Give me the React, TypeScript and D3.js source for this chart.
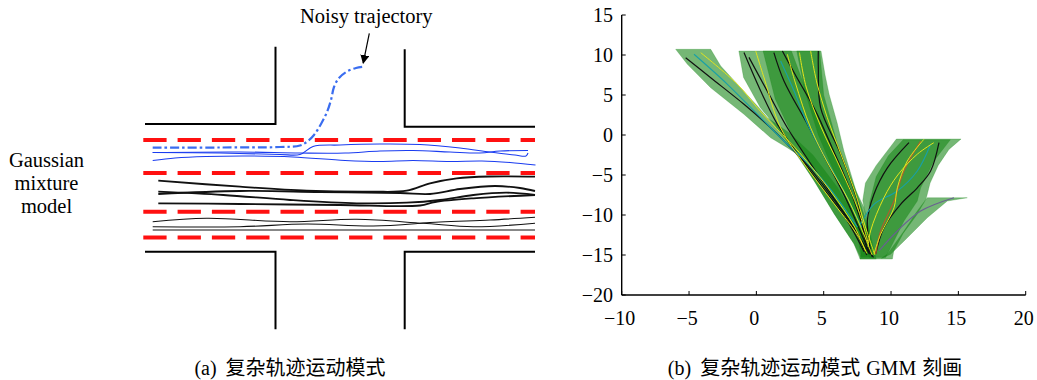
import React from 'react';
import * as d3 from 'd3';

type P = [number, number];

// ---------- Panel (b): GMM bands and trajectories (data units) ----------
const xTicks = [-10, -5, 0, 5, 10, 15, 20];
const yTicks = [-20, -15, -10, -5, 0, 5, 10, 15];

const bandA: P[] = [[-5.99, 10.71], [-5.12, 8.84], [-3.39, 5.91], [-0.92, 2.59], [1.06, -0.34], [2.3, -1.59], [3.04, -2.4], [4.3, -5.75], [5.8, -9.9], [7.25, -13.6], [7.75, -15.3], [8.6, -15.3], [7.8, -11.5], [6.0, -6.5], [4.2, -2.5], [2.5, 0.2], [0.82, 2.16], [0.07, 3.63], [-1.17, 5.91], [-2.65, 8.63], [-3.39, 10.71]];
const bandB: P[] = [[-1.3, 10.5], [4.8, 10.5], [5.1, 7.5], [5.4, 5.1], [6.0, 1.5], [6.5, -2], [7.4, -7], [8.0, -9.1], [8.4, -12], [8.9, -15.5], [7.7, -15.5], [7.25, -13.6], [5.8, -9.9], [4.3, -5.75], [2.8, -2], [1.3, 1.4], [0.3, 3.4], [-0.95, 7.2]];
const bandB2: P[] = [[0.5, 10.5], [2.6, 10.5], [3.6, 6], [5.2, 0], [7.0, -7], [8.3, -12.5], [8.5, -15.2], [7.8, -15.2], [7.5, -12.5], [5.0, -6], [2.8, -0.5], [1.4, 4.5]];
const bandB3: P[] = [[3.0, 10.5], [4.7, 10.5], [5.0, 5], [6.0, -1], [7.4, -7], [8.2, -11], [8.6, -14.8], [8.2, -14.8], [7.4, -11], [6.0, -5.5], [4.6, 0], [3.6, 5.5]];
const bandC: P[] = [[10.4, -0.5], [15.2, -0.5], [14.3, -1.8], [13.5, -3.8], [12.9, -6], [12.6, -8], [11.9, -10], [10.9, -12.3], [10.2, -14.5], [10.1, -15.5], [7.7, -15.5], [8.0, -13], [8.2, -10.8], [7.9, -8.2], [8.1, -6], [8.9, -3.8]];
const bandC2: P[] = [[10.9, -0.6], [14.4, -0.6], [13.18, -3.25], [12.2, -6.6], [11.95, -8.25], [10.96, -10.75], [9.97, -14.1], [9.6, -15.3], [8.4, -15.3], [8.3, -12], [8.4, -8.5], [8.9, -5.2], [9.8, -2.6]];
const bandD: P[] = [[12.69, -7.84], [15.66, -7.84], [14.18, -8.25], [12.69, -10.34], [11.21, -12.84], [9.97, -14.9], [9.3, -15.4], [9.73, -14.9], [10.96, -12], [11.95, -9.5]];
const bands: P[][] = [bandA, bandB, bandB2, bandB3, bandC, bandC2, bandD];

const blackTraj: P[][] = [
  [[-5.25, 9.66], [-3.39, 7.16], [-0.92, 3.84], [1.06, 0.91], [2.3, -1.16], [3.8, -3.8], [5.5, -7.5], [7.2, -11.5], [8.2, -15.0]],
  [[-0.92, 10.3], [0.32, 5.5], [1.56, 1.34], [3.0, -2.2], [4.8, -6.3], [6.6, -10.3], [8.0, -14.6]],
  [[-0.55, 9.7], [0.9, 5.2], [2.3, 0.9], [4.0, -3.5], [5.8, -8], [7.4, -12], [8.4, -14.9]],
  [[1.3, 10.3], [2.05, 6.75], [3.79, 1.34], [5.3, -3.5], [6.8, -8.5], [8.4, -14.8]],
  [[1.93, 10.5], [2.9, 7.5], [4.4, 3], [5.6, -1.5], [7.0, -7], [8.6, -15.2]],
  [[4.6, 10.5], [4.6, 8.5], [4.77, 3.41], [6.26, -2.4], [7.5, -8.25], [8.24, -14.1], [8.7, -15.3]],
  [[11.33, -0.96], [9.73, -4.1], [8.73, -7.4], [8.24, -10.75], [8.48, -14.5]],
  [[13.56, -0.96], [12.94, -4.5], [11.95, -6.6], [10.71, -8.66], [9.47, -11.6], [8.86, -14.9]],
];
const yellowTraj: P[][] = [
  [[-4.13, 10.29], [-1.41, 6.34], [0.07, 3.41], [1.5, 0.8], [3.2, -2.2], [5.5, -7], [7.3, -11.5], [8.1, -14.5]],
  [[-0.05, 10.5], [0.6, 7], [1.8, 0.9], [3.5, -3.5], [5.5, -8], [7.5, -12.5], [8.2, -14.8]],
  [[2.3, 10.1], [2.9, 6.5], [4.03, 0.9], [5.3, -3.5], [6.8, -8], [8.0, -12.5], [8.6, -15]],
  [[4.03, 10.5], [4.5, 6.5], [5.27, 2.16], [6.3, -2.5], [7.3, -7], [8.1, -11.5], [8.8, -15]],
  [[3.2, 10.3], [3.7, 6], [4.8, 1], [6.2, -4], [7.6, -9.5], [8.3, -13.5]],
  [[12.44, -0.54], [11.21, -3.25], [10.47, -6.6], [10.22, -9.1], [9.23, -12.4], [8.73, -14.9]],
  [[13.18, -0.96], [11.95, -2.4], [10.5, -5], [9.47, -7.84], [8.48, -12], [8.3, -14]],
];
const cyanTraj: P[][] = [
  [[-4.63, 10.09], [-2.15, 6.34], [0.32, 2.16], [2.05, -0.75], [3.8, -3.5], [5.5, -6.8], [7.5, -11.5]],
  [[1.8, 9.25], [2.8, 5.5], [3.79, 1.4], [5.0, -2.5], [6.5, -7], [7.8, -11.5]],
  [[12.94, -1.16], [11.95, -4.5], [10.47, -7], [8.73, -8.66], [7.74, -11.16]],
];
const brownTraj: P[][] = [
  [[12.2, -0.75], [10.96, -4.5], [10.22, -8.25], [9.23, -12], [8.86, -14.9]],
];
const purpleTraj: P[][] = [
  [[14.67, -7.84], [12.2, -9.5], [10.47, -12], [9.1, -14.5]],
];

// ---------- Panel (a): corridor diagram (diagram units) ----------
const walls: P[][] = [
  [[0, 77.3], [130.5, 77.3], [130.5, 0]],
  [[259.7, 2.6], [259.7, 80], [390, 80]],
  [[0, 205], [130.5, 205], [130.5, 282.6]],
  [[390, 205], [259.7, 205], [259.7, 282.6]],
];
const laneY = [93.3, 126.2, 165.1, 190.9];
const noisyTraj: P[] = [[7.7, 101], [75, 100.8], [135, 100.3], [155, 98.8], [163, 94.3], [169, 88.3], [176, 77.3], [182, 65.3], [186, 53.3], [189, 40.3], [194, 31.3], [202, 24.8], [211, 21.3], [218.3, 20]];
const arrowPts: P[] = [[224.3, -13.4], [218.2, 16.5]];
const blueTraj: P[][] = [
  [[7.7, 105.8], [75, 106.3], [135, 107.8], [155, 107.8], [168, 99.8], [195, 98.3], [235, 97.3], [275, 97.8], [315, 101.3], [345, 105.3], [370, 108.3], [381, 109.3], [383, 106.3]],
  [[7.7, 105.8], [95, 105.3], [155, 106.3], [200, 106.3], [235, 104.3], [268, 103.8], [305, 105.3], [335, 106.3], [355, 104.3], [383, 103.8]],
  [[7.7, 113.8], [30, 111.3], [61, 109.8], [105, 109.3], [148, 110.3], [200, 113.8], [235, 114.8], [268, 113.8], [305, 114.8], [337, 114.3], [365, 115.8], [390.5, 118.3]],
];
const blackTrajMid: P[][] = [
  [[13.3, 134], [95, 140], [161.7, 144], [228.3, 145], [261.7, 144], [285, 136.6], [311.7, 131.6], [345, 129.8], [390, 130]],
  [[13.3, 145], [78.3, 148.3], [145, 153.3], [211.7, 156.6], [261.7, 156], [295, 153.3], [328.3, 148.3], [361.7, 146], [390, 148.3]],
  [[13.3, 147.3], [95, 144.3], [175, 145.3], [255, 146.3], [285, 147.3], [315, 142.3], [350, 139.3], [375, 141.3], [390, 144.3]],
  [[13.3, 156.6], [95, 157.3], [195, 158.3], [275, 158.8], [290, 155.3], [328.3, 151.6], [390, 148.3]],
];
const blackTrajLow: P[][] = [
  [[7.7, 175], [61.7, 171.6], [145, 175], [211.7, 172.6], [278.3, 176.6], [328.3, 180], [390, 176.6]],
  [[7.7, 180], [95, 180], [161.7, 177.3], [228.3, 179.3], [295, 175.3], [345, 173.3], [390, 170.6]],
  [[7.7, 183.3], [155, 183.3], [255, 183.3], [390, 183.3]],
];
const gmmLabel = ['Gaussian', 'mixture', 'model'];
const noisyLabel = 'Noisy trajectory';
const captionA = ['(a)', '复杂轨迹运动模式'];
const captionB = ['(b)', '复杂轨迹运动模式', 'GMM', '刻画'];

const SERIF = 'Liberation Serif, DejaVu Serif, serif';
const CJK = 'Noto Sans CJK SC, sans-serif';

export default function App() {
  // panel (b) scales
  const x = d3.scaleLinear().domain([-10, 20]).range([621.7, 1025.7]);
  const y = d3.scaleLinear().domain([-20, 15]).range([295, 15]);
  const poly = d3.line<P>().x(d => x(d[0])).y(d => y(d[1])).curve(d3.curveLinearClosed);
  const traj = d3.line<P>().x(d => x(d[0])).y(d => y(d[1])).curve(d3.curveCatmullRom.alpha(0.5));

  // panel (a) scales
  const ax = d3.scaleLinear().domain([0, 390]).range([145, 535]);
  const ay = d3.scaleLinear().domain([0, 282.6]).range([46.7, 329.3]);
  const aLin = d3.line<P>().x(d => ax(d[0])).y(d => ay(d[1]));
  const aCurve = d3.line<P>().x(d => ax(d[0])).y(d => ay(d[1])).curve(d3.curveCatmullRom.alpha(0.5));

  const minus = (v: number) => (v < 0 ? '\u2212' + Math.abs(v) : String(v));
  const serif = { fontFamily: SERIF };
  const cjk = { fontFamily: CJK };

  return (
    <svg width={1037} height={380} style={{ position: 'absolute', left: 0, top: 0, background: '#fff' }}>
      <defs>
        <marker id="ah" viewBox="0 0 10 10" refX="9" refY="5" markerWidth="9" markerHeight="9" markerUnits="userSpaceOnUse" orient="auto">
          <path d="M0,0 L10,5 L0,10 z" fill="#000" />
        </marker>
      </defs>
      <rect width={1037} height={380} fill="#fff" />

      {/* ---------- Panel (a) ---------- */}
      {walls.map((w, i) => (
        <path key={'w' + i} d={aLin(w) || ''} fill="none" stroke="#000" strokeWidth={2} />
      ))}
      {laneY.map((v, i) => (
        <line key={'l' + i} x1={ax(-1.7)} x2={ax(390)} y1={ay(v)} y2={ay(v)} stroke="#ff1010" strokeWidth={4} strokeDasharray="23.3 11" />
      ))}
      {blueTraj.map((t, i) => (
        <path key={'bt' + i} d={aCurve(t) || ''} fill="none" stroke="#1a3cf0" strokeWidth={1.1} />
      ))}
      {blackTrajMid.map((t, i) => (
        <path key={'km' + i} d={aCurve(t) || ''} fill="none" stroke="#111" strokeWidth={1.8} />
      ))}
      {blackTrajLow.map((t, i) => (
        <path key={'kl' + i} d={aCurve(t) || ''} fill="none" stroke="#111" strokeWidth={1.1} />
      ))}
      <path d={aCurve(noisyTraj) || ''} fill="none" stroke="#3a6df0" strokeWidth={2.2} strokeDasharray="9 3 2.5 3" />
      <path d={aLin(arrowPts) || ''} fill="none" stroke="#000" strokeWidth={1.2} markerEnd="url(#ah)" />
      <text x={ax(221.3)} y={22.7} textAnchor="middle" style={serif} fontSize={20.5} fill="#000">{noisyLabel}</text>
      {gmmLabel.map((s, i) => (
        <text key={'g' + i} x={46.5} y={166.7 + i * 23.3} textAnchor="middle" style={serif} fontSize={20.5} fill="#000">{s}</text>
      ))}

      {/* ---------- Panel (b) ---------- */}
      {bands.map((b, i) => (
        <path key={'band' + i} d={poly(b) || ''} fill="rgb(25,135,25)" fillOpacity={0.6} stroke="rgb(25,135,25)" strokeOpacity={0.25} strokeWidth={1} />
      ))}
      {blackTraj.map((t, i) => (
        <path key={'k' + i} d={traj(t) || ''} fill="none" stroke="#111" strokeWidth={1.2} />
      ))}
      {cyanTraj.map((t, i) => (
        <path key={'c' + i} d={traj(t) || ''} fill="none" stroke="#18a0a8" strokeWidth={1.1} />
      ))}
      {brownTraj.map((t, i) => (
        <path key={'br' + i} d={traj(t) || ''} fill="none" stroke="#b0602a" strokeWidth={1.2} />
      ))}
      {yellowTraj.map((t, i) => (
        <path key={'y' + i} d={traj(t) || ''} fill="none" stroke="#e4e41c" strokeWidth={1} />
      ))}
      {purpleTraj.map((t, i) => (
        <path key={'p' + i} d={traj(t) || ''} fill="none" stroke="#6a5f92" strokeWidth={1.1} />
      ))}

      {/* axes */}
      <line x1={x(-10)} x2={x(20)} y1={y(-20)} y2={y(-20)} stroke="#000" strokeWidth={1.4} />
      <line x1={x(-10)} x2={x(-10)} y1={y(-20)} y2={y(15)} stroke="#000" strokeWidth={1.4} />
      {xTicks.map(t => (
        <g key={'xt' + t}>
          <line x1={x(t)} x2={x(t)} y1={y(-20)} y2={y(-20) - 4} stroke="#000" strokeWidth={1} />
          <text x={x(t) - 2} y={325} textAnchor="middle" style={serif} fontSize={20} fill="#000">{minus(t)}</text>
        </g>
      ))}
      {yTicks.map(t => (
        <g key={'yt' + t}>
          <line x1={x(-10)} x2={x(-10) + 4} y1={y(t)} y2={y(t)} stroke="#000" strokeWidth={1} />
          <text x={613} y={y(t) + 6.5} textAnchor="end" style={serif} fontSize={20} fill="#000">{minus(t)}</text>
        </g>
      ))}

      {/* captions */}
      <text x={290} y={375} textAnchor="middle" fontSize={20} fill="#000" style={serif}>
        <tspan style={serif}>{captionA[0]}</tspan>
        <tspan dx={9} style={cjk}>{captionA[1]}</tspan>
      </text>
      <text x={815} y={375} textAnchor="middle" fontSize={20} fill="#000" style={serif}>
        <tspan style={serif}>{captionB[0]}</tspan>
        <tspan dx={9} style={cjk}>{captionB[1]}</tspan>
        <tspan dx={6} style={serif}>{captionB[2]}</tspan>
        <tspan dx={6} style={cjk}>{captionB[3]}</tspan>
      </text>
    </svg>
  );
}
